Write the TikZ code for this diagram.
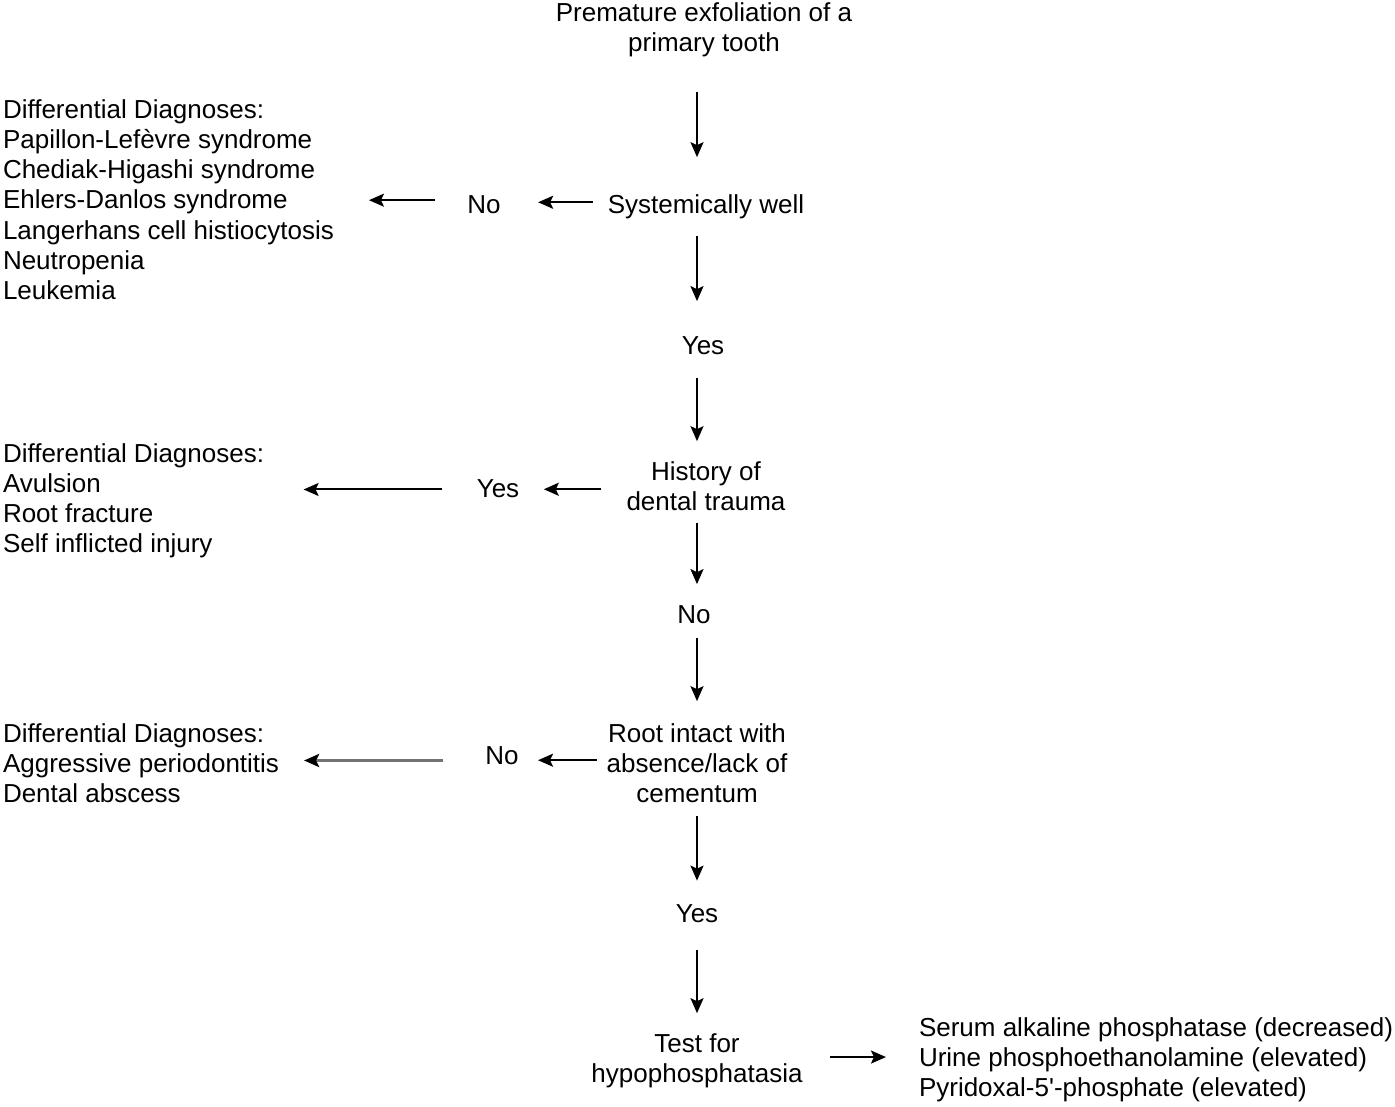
\documentclass[tikz,border=0pt]{standalone}
\usepackage{fontspec}
\setmainfont{Liberation Sans}
\usetikzlibrary{arrows.meta}
\begin{document}
\begin{tikzpicture}[x=1pt,y=-1pt,
  txt/.style={inner sep=0pt,outer sep=0pt,font=\fontsize{26}{30.3}\selectfont,anchor=base},
  ctr/.style={txt,align=center},
  lst/.style={txt,align=left,anchor=base west},
  arr/.style={line width=2pt,-{Stealth[length=15pt,width=13pt,inset=3pt]}}]
\useasboundingbox (0,0) rectangle (1395,1106);
\coordinate (spine) at (697,0);
% central column (base anchor = baseline of the last line)
\node[ctr] (top) at (704,51.3) {Premature exfoliation of a\\primary tooth};
\node[ctr] (sw) at (706,213) {Systemically well};
\node[ctr] (yes1) at (703,354) {Yes};
\node[ctr] (hist) at (706,510.3) {History of\\dental trauma};
\node[ctr] (no2) at (694,623) {No};
\node[ctr] (root) at (697,802.6) {Root intact with\\absence/lack of\\cementum};
\node[ctr] (yes3) at (697,922) {Yes};
\node[ctr] (test) at (697,1082.3) {Test for\\hypophosphatasia};
% side answers
\node[ctr] (no1) at (484,213) {No};
\node[ctr] (yes2) at (498,497) {Yes};
\node[ctr] (no3) at (502,764) {No};
% lists
\node[lst] (list1) at (3,299.8) {Differential Diagnoses:\\Papillon-Lefèvre syndrome\\Chediak-Higashi syndrome\\Ehlers-Danlos syndrome\\Langerhans cell histiocytosis\\Neutropenia\\Leukemia};
\node[lst] (list2) at (3,552.9) {Differential Diagnoses:\\Avulsion\\Root fracture\\Self inflicted injury};
\node[lst] (list3) at (3,802.6) {Differential Diagnoses:\\Aggressive periodontitis\\Dental abscess};
\node[lst] (tests) at (919,1096.6) {Serum alkaline phosphatase (decreased)\\Urine phosphoethanolamine (elevated)\\Pyridoxal-5\textquotesingle-phosphate (elevated)};
% vertical connectors
\draw[arr,shorten <=35pt,shorten >=37pt] (top.south -| spine) -- (sw.north -| spine);
\draw[arr,shorten <=17.5pt,shorten >=35pt] (sw.south -| spine) -- (yes1.north -| spine);
\draw[arr,shorten <=24pt,shorten >=20pt] (yes1.south -| spine) -- (hist.north -| spine);
\draw[arr,shorten <=12pt,shorten >=21pt] (hist.south -| spine) -- (no2.north -| spine);
\draw[arr,shorten <=15pt,shorten >=22pt] (no2.south -| spine) -- (root.north -| spine);
\draw[arr,shorten <=13.5pt,shorten >=23.5pt] (root.south -| spine) -- (yes3.north -| spine);
\draw[arr,shorten <=28pt,shorten >=20pt] (yes3.south -| spine) -- (test.north -| spine);
% horizontal connectors
\draw[arr,shorten <=15pt,shorten >=37.5pt] ([yshift=4pt]sw.west) -- ([yshift=4pt]sw.west -| no1.east);
\draw[arr,shorten <=32.4pt,shorten >=35pt] ([yshift=4pt]no1.west) -- ([yshift=4pt]no1.west -| list1.east);
\draw[arr,shorten <=25.5pt,shorten >=24.6pt] ([yshift=-3.4pt]hist.west) -- ([yshift=-3.4pt]hist.west -| yes2.east);
\draw[arr,shorten <=34.6pt,shorten >=39.5pt] ([yshift=-1.3pt]yes2.west) -- ([yshift=-1.3pt]yes2.west -| list2.east);
\draw[arr,shorten <=10pt,shorten >=19.4pt] ([yshift=2.8pt]root.west) -- ([yshift=2.8pt]root.west -| no3.east);
\draw[line width=3pt,draw=black!55,-{Stealth[length=15pt,width=13pt,inset=3pt,black]},shorten <=42.4pt,shorten >=25pt] ([yshift=-5.3pt]no3.west) -- ([yshift=-5.3pt]no3.west -| list3.east);
\draw[arr,shorten <=27.5pt,shorten >=33pt] ([yshift=3.4pt]test.east) -- ([yshift=3.4pt]test.east -| tests.west);
\end{tikzpicture}
\end{document}
